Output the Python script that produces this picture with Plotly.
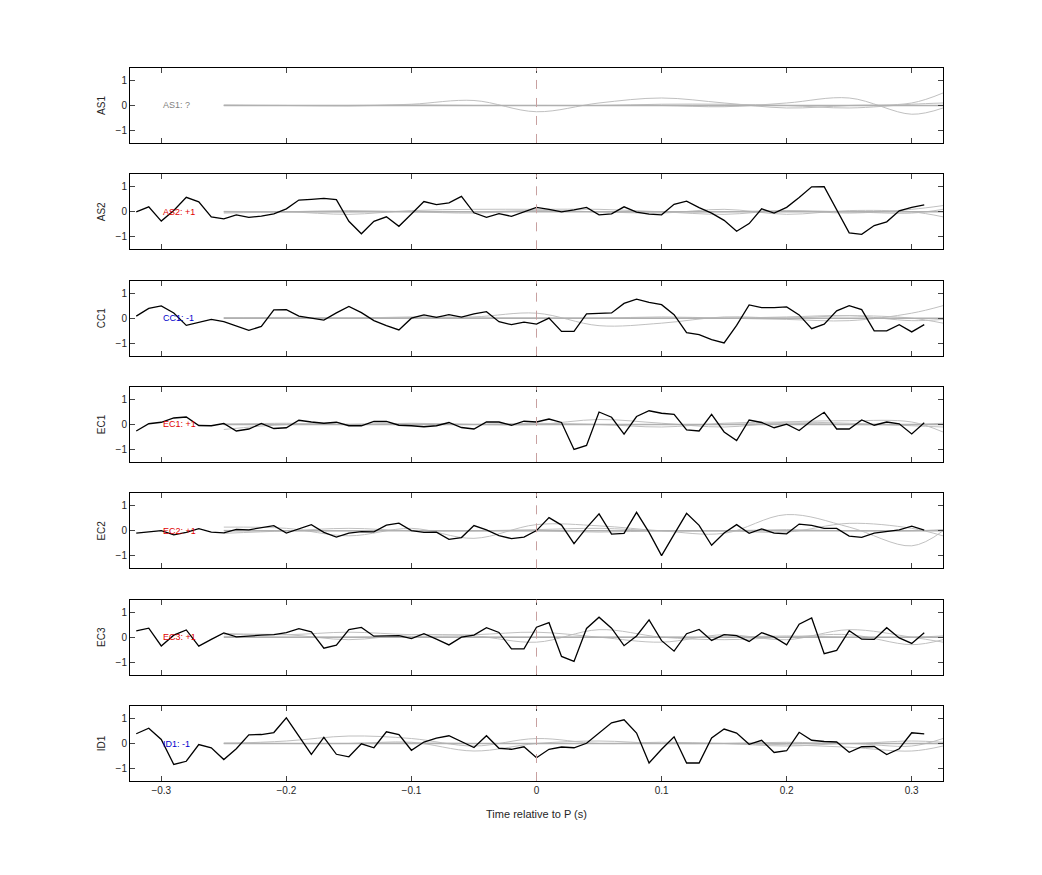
import plotly.graph_objects as go
from plotly.subplots import make_subplots

# ---------- data ----------
t = [round(-0.32 + 0.01 * i, 2) for i in range(64)]
gt = [-0.25, -0.2, -0.15, -0.1, -0.05, 0.0, 0.05, 0.1, 0.15, 0.2, 0.25, 0.3, 0.325]

channels = ["AS1", "AS2", "CC1", "EC1", "EC2", "EC3", "ID1"]
labels = ["AS1: ?", "AS2: +1", "CC1: -1", "EC1: +1", "EC2: +1", "EC3: +1", "ID1: -1"]
label_colors = ["#808080", "#e00000", "#0000cc", "#e00000", "#e00000", "#e00000", "#0000cc"]

as2 = [0, 0.2, -0.37, 0.05, 0.58, 0.4, -0.2, -0.28, -0.12, -0.22, -0.17, -0.08, 0.12, 0.47, 0.5, 0.54,
       0.49, -0.38, -0.88, -0.38, -0.2, -0.58, -0.09, 0.41, 0.29, 0.36, 0.62, -0.04, -0.22, -0.07, -0.18, -0.01,
       0.18, 0.1, 0, 0.08, 0.18, -0.12, -0.08, 0.2, -0.01, -0.09, -0.12, 0.3, 0.43, 0.17, -0.05, -0.34,
       -0.78, -0.47, 0.12, -0.05, 0.18, 0.57, 1.0, 1.01, 0.08, -0.84, -0.9, -0.55, -0.4, 0.04, 0.18, 0.28]
cc1 = [0.08, 0.39, 0.49, 0.21, -0.29, -0.17, -0.05, -0.14, -0.32, -0.49, -0.33, 0.33, 0.34, 0.08, 0, -0.08,
       0.21, 0.47, 0.22, -0.1, -0.3, -0.47, 0, 0.13, 0.03, 0.14, 0.04, 0.17, 0.26, -0.14, -0.26, -0.16,
       -0.24, 0, -0.53, -0.53, 0.17, 0.18, 0.21, 0.59, 0.76, 0.63, 0.54, 0.14, -0.58, -0.66, -0.86, -0.99,
       -0.29, 0.53, 0.42, 0.42, 0.45, 0.13, -0.42, -0.24, 0.29, 0.5, 0.34, -0.51, -0.51, -0.26, -0.55, -0.26]
ec1 = [-0.26, 0.03, 0.09, 0.26, 0.3, -0.04, -0.05, 0.04, -0.26, -0.18, 0.04, -0.16, -0.13, 0.17, 0.1, 0.05,
       0.09, -0.05, -0.05, 0.12, 0.12, -0.03, -0.05, -0.09, -0.05, 0.08, -0.12, -0.18, 0.1, 0.1, -0.03, 0.13,
       0.1, 0.22, 0.08, -1.0, -0.84, 0.5, 0.29, -0.39, 0.32, 0.55, 0.45, 0.41, -0.22, -0.26, 0.41, -0.3,
       -0.64, 0.18, 0.08, -0.13, 0.01, -0.24, 0.16, 0.49, -0.18, -0.18, 0.18, -0.03, 0.1, 0.03, -0.38, 0.07]
ec2 = [-0.09, -0.05, 0.01, -0.16, -0.06, 0.09, -0.05, -0.08, 0.06, 0.04, 0.13, 0.21, -0.09, 0.08, 0.25, -0.06,
       -0.25, -0.09, -0.03, -0.04, 0.23, 0.31, 0.01, -0.06, -0.05, -0.34, -0.27, 0.21, 0.04, -0.19, -0.31, -0.25,
       0.01, 0.53, 0.23, -0.51, 0.12, 0.68, -0.13, -0.1, 0.74, -0.06, -0.99, -0.14, 0.7, 0.22, -0.58, -0.09,
       0.25, -0.1, 0.08, -0.09, -0.12, 0.27, 0.22, 0.1, 0.1, -0.21, -0.26, -0.09, -0.03, 0.04, 0.19, 0.03]
ec3 = [0.25, 0.36, -0.35, 0.08, 0.29, -0.36, -0.09, 0.17, 0.01, 0.06, 0.08, 0.1, 0.18, 0.34, 0.21, -0.44,
       -0.32, 0.3, 0.39, 0.04, 0.05, 0.06, -0.06, 0.14, -0.08, -0.31, 0, 0.08, 0.38, 0.19, -0.47, -0.47,
       0.4, 0.58, -0.77, -0.97, 0.35, 0.8, 0.36, -0.34, 0.05, 0.69, -0.14, -0.56, 0.14, 0.31, -0.13, 0.1,
       0.06, -0.17, 0.18, 0, -0.31, 0.52, 0.77, -0.66, -0.53, 0.26, -0.08, -0.09, 0.38, -0.03, -0.25, 0.18]
id1 = [0.39, 0.61, 0.16, -0.84, -0.71, -0.04, -0.17, -0.64, -0.21, 0.35, 0.36, 0.44, 1.03, 0.3, -0.43, 0.25,
       -0.43, -0.53, -0.01, -0.17, 0.47, 0.36, -0.27, 0.06, 0.22, 0.31, 0.06, -0.16, 0.31, -0.19, -0.23, -0.13,
       -0.57, -0.23, -0.14, -0.17, 0.01, 0.42, 0.83, 0.95, 0.42, -0.78, -0.23, 0.27, -0.78, -0.78, 0.22, 0.58,
       0.42, -0.03, 0.13, -0.36, -0.29, 0.45, 0.13, 0.08, 0.06, -0.35, -0.13, -0.12, -0.44, -0.21, 0.43, 0.39]
black = [None, as2, cc1, ec1, ec2, ec3, id1]

# gray traces (sampled coarsely, drawn smooth)
gray = [
    [[0, 0, -0.02, 0.05, 0.2, -0.25, 0.1, 0.3, 0.1, -0.1, 0.0, 0.1, 0.5],
     [0, 0, 0, 0, 0, 0, 0, 0, -0.05, 0.1, 0.3, -0.35, -0.1],
     [0.02, 0, 0, 0.02, 0, 0, 0, 0.05, 0.05, 0, -0.1, 0.05, 0.1]],
    [[0, 0, -0.1, 0.05, 0.1, 0.1, 0.1, 0, -0.1, 0.05, -0.05, 0.1, 0.25],
     [-0.05, 0, 0.05, 0, -0.05, 0.05, 0, -0.05, 0.1, -0.1, 0.05, 0, -0.2],
     [0.02, 0, 0, 0.02, 0, 0.05, 0, 0, 0, 0.05, 0, -0.05, 0.1]],
    [[0, 0, 0, 0.05, 0.05, 0.2, -0.3, -0.2, 0.05, 0, 0.1, 0.0, -0.2],
     [0, 0.03, 0, 0, 0, 0, 0, 0.05, 0, -0.05, -0.1, 0.2, 0.5],
     [0.02, 0, 0, 0.02, 0, 0, 0, 0.0, 0, 0.05, 0.1, -0.1, -0.05]],
    [[-0.2, 0, 0, 0, 0, 0.0, 0.2, 0.05, -0.1, 0.1, 0.15, 0.1, -0.3],
     [0, 0.05, 0, 0.05, 0, 0, 0, -0.1, 0.05, 0.1, 0.05, -0.05, -0.1],
     [0.02, 0, 0, 0.02, 0, 0.05, 0, 0, 0, 0.05, 0, 0, 0.05]],
    [[0.15, 0.1, -0.2, 0.1, -0.3, 0.25, 0.2, 0, -0.1, 0.65, 0.15, -0.6, 0.0],
     [-0.1, 0, 0.1, 0, 0, 0.05, 0.1, 0.0, 0, -0.05, 0.3, 0.1, -0.2],
     [0.02, 0, 0, 0.02, 0, 0, -0.05, 0, 0, 0.05, 0, 0, 0.05]],
    [[0.15, 0.1, 0.2, 0.1, 0.1, 0.2, 0.0, -0.2, 0.1, -0.1, 0.3, 0.0, -0.2],
     [0.1, 0.1, -0.1, 0.1, 0.05, -0.2, 0.3, 0.0, -0.1, 0.0, 0.1, -0.3, -0.1],
     [0.02, 0, 0, 0.02, 0, 0, 0, 0, 0, 0.05, 0, 0, 0.05]],
    [[0, 0.1, 0.3, 0.2, -0.1, 0.2, 0.0, 0.05, 0.0, -0.1, 0.0, -0.1, 0.2],
     [0, 0, 0, 0.05, -0.3, 0.0, 0.1, 0, 0, -0.05, -0.15, -0.3, -0.1],
     [0.02, 0, 0, 0.02, 0, 0, 0, 0, 0, 0.05, 0, 0.1, 0.05]],
]

# ---------- figure ----------
fig = make_subplots(rows=7, cols=1, shared_xaxes=True, vertical_spacing=0.044)

for i, ch in enumerate(channels):
    r = i + 1
    for g in gray[i]:
        fig.add_trace(go.Scatter(x=gt, y=g, mode="lines", line=dict(color="#c0c0c0", width=1, shape="spline"),
                                 showlegend=False), row=r, col=1)
    fig.add_trace(go.Scatter(x=[-0.25, 0.325], y=[0, 0], mode="lines", line=dict(color="#b0b0b0", width=1.5),
                             showlegend=False), row=r, col=1)
    if black[i] is not None:
        fig.add_trace(go.Scatter(x=t, y=black[i], mode="lines", line=dict(color="black", width=1.3),
                                 showlegend=False), row=r, col=1)
    fig.add_vline(x=0, line=dict(color="rgb(200,160,160)", width=1, dash="dash"), row=r, col=1)
    fig.add_annotation(x=-0.3, y=0, text=labels[i], showarrow=False, xanchor="left",
                       font=dict(size=9, color=label_colors[i]), row=r, col=1)
    fig.update_yaxes(title_text=ch, title_font=dict(size=10), range=[-1.5, 1.5], tickvals=[-1, 0, 1],
                     row=r, col=1)

fig.update_xaxes(range=[-0.325, 0.325], tickvals=[-0.3, -0.2, -0.1, 0, 0.1, 0.2, 0.3],
                 showline=True, mirror="ticks", linecolor="black", ticks="inside", ticklen=5,
                 showgrid=False, zeroline=False, tickfont=dict(size=10))
fig.update_yaxes(showline=True, mirror="ticks", linecolor="black", ticks="inside", ticklen=5,
                 showgrid=False, zeroline=False, tickfont=dict(size=10), title_standoff=8)
fig.update_xaxes(title_text="Time relative to P (s)", title_font=dict(size=11), row=7, col=1)

fig.update_layout(
    width=1042, height=875,
    margin=dict(l=122, r=107, t=60, b=102),
    plot_bgcolor="white", paper_bgcolor="white",
    font=dict(family="Liberation Sans, Arial", color="#262626"),
)

fig.write_html("out.html")
